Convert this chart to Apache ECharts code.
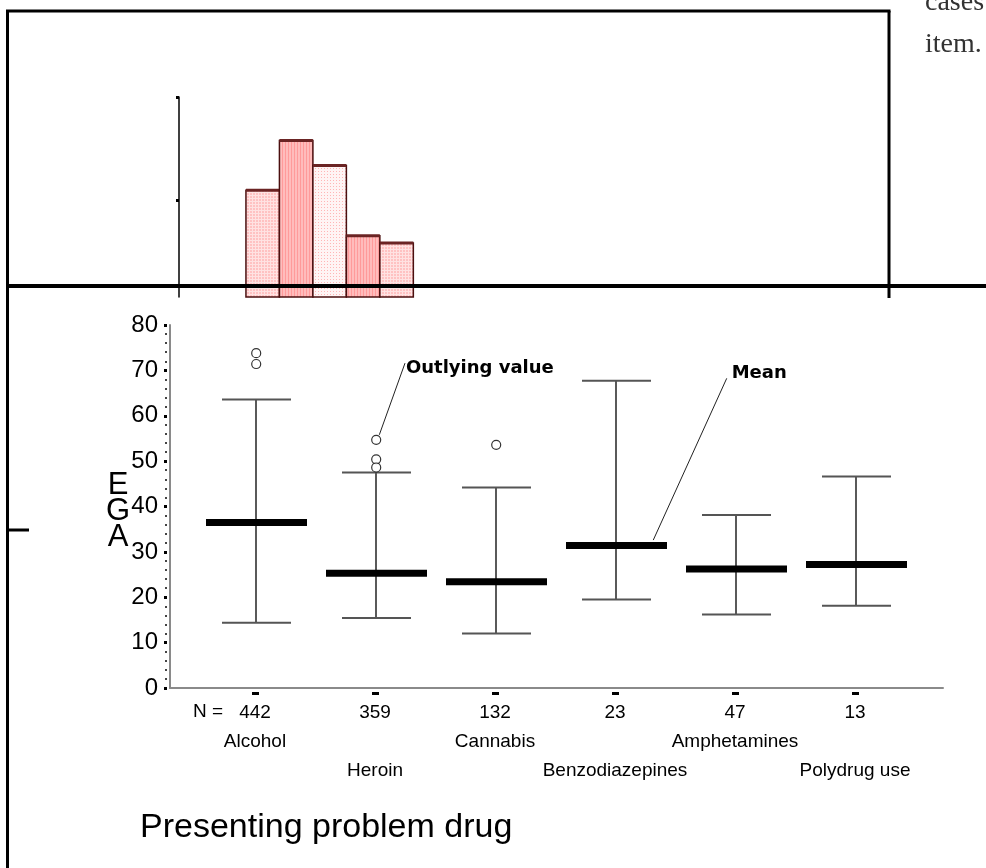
<!DOCTYPE html>
<html>
<head>
<meta charset="utf-8">
<script src="https://cdn.jsdelivr.net/npm/echarts@6/dist/echarts.min.js"></script>
<style>
html,body{margin:0;padding:0;background:#fff;}
#chart{width:986px;height:868px;}
</style>
</head>
<body>
<div id="chart"></div>
<script>
// ---------- data ----------
const categories = ['Alcohol', 'Heroin', 'Cannabis', 'Benzodiazepines', 'Amphetamines', 'Polydrug use'];
const nCounts = [442, 359, 132, 23, 47, 13];
const whiskerLow = [14.4, 15.4, 12.0, 19.5, 16.2, 18.1];
const whiskerHigh = [63.6, 47.5, 44.2, 67.7, 38.1, 46.6];
const meanAge = [36.5, 25.3, 23.4, 31.4, 26.2, 27.2];
// outlying values: [category index, age]
const outlierPoints = [[0, 73.8], [0, 71.4], [1, 54.7], [1, 50.4], [1, 48.6], [2, 53.6]];
// background histogram (partially hidden in the source figure)
const histFrom = [20, 30, 40, 50, 60];
const histCounts = [110, 158, 134, 66, 59];
const histBinWidth = 10;
const histTicks = [100, 200];
// annotations (data coordinates of the box plot)
const annotationTexts = ['Outlying value', 'Mean'];
const annotationFrom = [[1.036, 55.8], [3.319, 32.6]];
const annotationTo = [[1.25, 71.6], [3.931, 68.25]];
const annotationTextAt = [[1.258, 70.4], [3.972, 69.4]];

// ---------- patterns ----------
function makePattern(w, h, base, dots, dotColor) {
  const c = document.createElement('canvas');
  c.width = w; c.height = h;
  const ctx = c.getContext('2d');
  ctx.fillStyle = base; ctx.fillRect(0, 0, w, h);
  ctx.fillStyle = dotColor;
  dots.forEach(d => ctx.fillRect(d[0], d[1], 1, 1));
  return { image: c, repeat: 'repeat' };
}
const patterns = [
  makePattern(3, 3, '#ffc2c2', [[0,0],[1,0],[2,0],[0,1],[0,2]], '#ffe2e2'),
  makePattern(3, 1, '#ffbcbc', [[0,0]], '#ff9a9a'),
  makePattern(3, 3, '#fff4f4', [[0,0]], '#ffb6b6')
];
const histPatternIdx = [0, 1, 2, 1, 0];

const FONT = 'Liberation Sans, Arial, sans-serif';
const chart = echarts.init(document.getElementById('chart'), null, { renderer: 'canvas' });

const option = {
  animation: false,
  backgroundColor: '#fff',
  title: {
    text: 'Presenting problem drug',
    left: 135, top: 806,
    textStyle: { fontFamily: FONT, fontSize: 34, fontWeight: 'normal', color: '#000' }
  },
  grid: [
    { left: 179, right: 104, top: 97, bottom: 571 },
    { left: 170, right: 43, top: 325, bottom: 180 },
    { left: 195, right: 71, top: 325, bottom: 180 }
  ],
  xAxis: [
    { type: 'value', gridIndex: 0, min: 0, max: 210, show: false },
    { type: 'value', gridIndex: 1, min: 0, max: 1,
      axisLine: { show: true, onZero: false, lineStyle: { color: '#8a8a8a', width: 2 } },
      axisTick: { show: false }, axisLabel: { show: false }, splitLine: { show: false } },
    { type: 'value', gridIndex: 2, min: -0.5, max: 5.5, show: false },
    { type: 'category', gridIndex: 2, data: categories, position: 'bottom', offset: 4,
      axisLine: { show: false },
      axisTick: { show: true, alignWithLabel: true, interval: 0, length: 3, lineStyle: { color: '#000', width: 7 } },
      axisLabel: {
        interval: 0, margin: 6, lineHeight: 29, color: '#000', fontFamily: FONT, fontSize: 19,
        formatter: (v, i) => (i % 2 === 0)
          ? '{n|' + nCounts[i] + '}\n{c|' + v + '}'
          : '{n|' + nCounts[i] + '}\n{e| }\n{c|' + v + '}',
        rich: {
          n: { fontFamily: FONT, fontSize: 19, lineHeight: 29, color: '#000' },
          c: { fontFamily: FONT, fontSize: 19, lineHeight: 29, color: '#000' },
          e: { fontFamily: FONT, fontSize: 19, lineHeight: 29, color: '#fff' }
        }
      },
      splitLine: { show: false } }
  ],
  yAxis: [
    { type: 'value', gridIndex: 0, min: 7, max: 200, position: 'left',
      axisLine: { show: true, lineStyle: { color: '#000', width: 1.5 } },
      axisTick: { show: true, length: 3, customValues: histTicks, lineStyle: { color: '#000', width: 3 } },
      axisLabel: { show: false }, splitLine: { show: false } },
    { type: 'value', gridIndex: 1, min: 0, max: 80, position: 'left',
      axisLine: { show: true, lineStyle: { color: '#8a8a8a', width: 2 } },
      axisTick: { show: false }, axisLabel: { show: false }, splitLine: { show: false },
      name: '{s| }\n{l|E}\n{l|G}\n{l|A}', nameLocation: 'middle', nameRotate: 0, nameGap: 52,
      nameTextStyle: { fontFamily: FONT, fontSize: 31, lineHeight: 26, align: 'center', verticalAlign: 'middle', color: '#000',
        rich: {
          s: { fontSize: 2, lineHeight: 9 },
          l: { fontFamily: FONT, fontSize: 31, lineHeight: 26, color: '#000', align: 'center' }
        } } },
    { type: 'value', gridIndex: 1, min: 0, max: 80, interval: 10, offset: 3, position: 'left',
      axisLine: { show: false },
      axisTick: { show: true, length: 3, lineStyle: { color: '#000', width: 3 } },
      minorTick: { show: true, splitNumber: 5, length: 2, lineStyle: { color: '#444', width: 2 } },
      axisLabel: { margin: 9, fontFamily: FONT, fontSize: 24, color: '#000' },
      splitLine: { show: false } },
    { type: 'value', gridIndex: 2, min: 0, max: 80, show: false }
  ],
  graphic: [
    { type: 'line', z: 100, shape: { x1: 7.5, y1: 11, x2: 7.5, y2: 868 }, style: { stroke: '#000', lineWidth: 3 } },
    { type: 'line', z: 100, shape: { x1: 6, y1: 11, x2: 890.5, y2: 11 }, style: { stroke: '#000', lineWidth: 3 } },
    { type: 'line', z: 100, shape: { x1: 889, y1: 11, x2: 889, y2: 298 }, style: { stroke: '#000', lineWidth: 3 } },
    { type: 'line', z: 100, shape: { x1: 6, y1: 286, x2: 986, y2: 286 }, style: { stroke: '#000', lineWidth: 4 } },
    { type: 'line', z: 100, shape: { x1: 7.5, y1: 530, x2: 29, y2: 530 }, style: { stroke: '#000', lineWidth: 3 } },
    { type: 'text', z: 100, style: { x: 925, y: 17, text: 'cases', font: '28px Liberation Serif', fill: '#333', textVerticalAlign: 'bottom' } },
    { type: 'text', z: 100, style: { x: 925, y: 59, text: 'item.', font: '28px Liberation Serif', fill: '#333', textVerticalAlign: 'bottom' } },
    { type: 'text', z: 100, style: { x: 193, y: 712, text: 'N =', font: '19px Liberation Sans', fill: '#000', textVerticalAlign: 'middle' } }
  ],
  series: [
    {
      type: 'custom', name: 'histogram', xAxisIndex: 0, yAxisIndex: 0,
      data: histFrom.map((f, i) => [f, histCounts[i], histPatternIdx[i]]),
      renderItem: function (params, api) {
        const from = api.value(0), cnt = api.value(1);
        const p0 = api.coord([from, cnt]);
        const p1 = api.coord([from + histBinWidth, 0]);
        const cs = params.coordSys;
        const bottom = Math.min(p1[1], cs.y + cs.height);
        const pat = patterns[api.value(2)];
        return {
          type: 'group',
          children: [
            { type: 'rect', shape: { x: p0[0], y: p0[1], width: p1[0] - p0[0], height: bottom - p0[1] },
              style: { fill: pat, stroke: '#4a0f0f', lineWidth: 1.5 } },
            { type: 'line', shape: { x1: p0[0], y1: p0[1], x2: p1[0], y2: p0[1] },
              style: { stroke: '#6b2424', lineWidth: 3 } }
          ]
        };
      }
    },
    {
      type: 'custom', name: 'age', xAxisIndex: 2, yAxisIndex: 3,
      data: categories.map((c, i) => [i, whiskerLow[i], whiskerHigh[i], meanAge[i]]),
      renderItem: function (params, api) {
        const x = api.value(0);
        const lo = api.coord([x, api.value(1)]);
        const hi = api.coord([x, api.value(2)]);
        const mn = api.coord([x, api.value(3)]);
        const cx = lo[0] + 1;
        return {
          type: 'group',
          children: [
            { type: 'line', shape: { x1: cx, y1: lo[1], x2: cx, y2: hi[1] }, style: { stroke: '#000', lineWidth: 1.3 } },
            { type: 'line', shape: { x1: cx - 34, y1: hi[1], x2: cx + 35, y2: hi[1] }, style: { stroke: '#555', lineWidth: 2 } },
            { type: 'line', shape: { x1: cx - 34, y1: lo[1], x2: cx + 35, y2: lo[1] }, style: { stroke: '#555', lineWidth: 2 } },
            { type: 'rect', shape: { x: cx - 50, y: mn[1] - 3.5, width: 101, height: 7 }, style: { fill: '#000' } }
          ]
        };
      }
    },
    {
      type: 'scatter', name: 'outliers', xAxisIndex: 2, yAxisIndex: 3,
      data: outlierPoints.map(p => [p[0] + 0.01, p[1]]),
      symbol: 'circle', symbolSize: 9,
      itemStyle: { color: '#fff', borderColor: '#000', borderWidth: 1.2 }
    },
    {
      type: 'custom', name: 'annotations', xAxisIndex: 2, yAxisIndex: 3, clip: false,
      data: annotationTexts.map((t, i) => [annotationFrom[i][0], annotationFrom[i][1], annotationTo[i][0], annotationTo[i][1], annotationTextAt[i][0], annotationTextAt[i][1], i]),
      renderItem: function (params, api) {
        const a = api.coord([api.value(0), api.value(1)]);
        const b = api.coord([api.value(2), api.value(3)]);
        const t = api.coord([api.value(4), api.value(5)]);
        return {
          type: 'group',
          children: [
            { type: 'line', shape: { x1: a[0], y1: a[1], x2: b[0], y2: b[1] }, style: { stroke: '#222', lineWidth: 1 } },
            { type: 'text', style: { x: t[0], y: t[1], text: annotationTexts[api.value(6)], fill: '#000',
              font: 'bold 18px DejaVu Sans', textVerticalAlign: 'middle', textAlign: 'left' } }
          ]
        };
      }
    }
  ]
};
chart.setOption(option);
</script>
</body>
</html>
